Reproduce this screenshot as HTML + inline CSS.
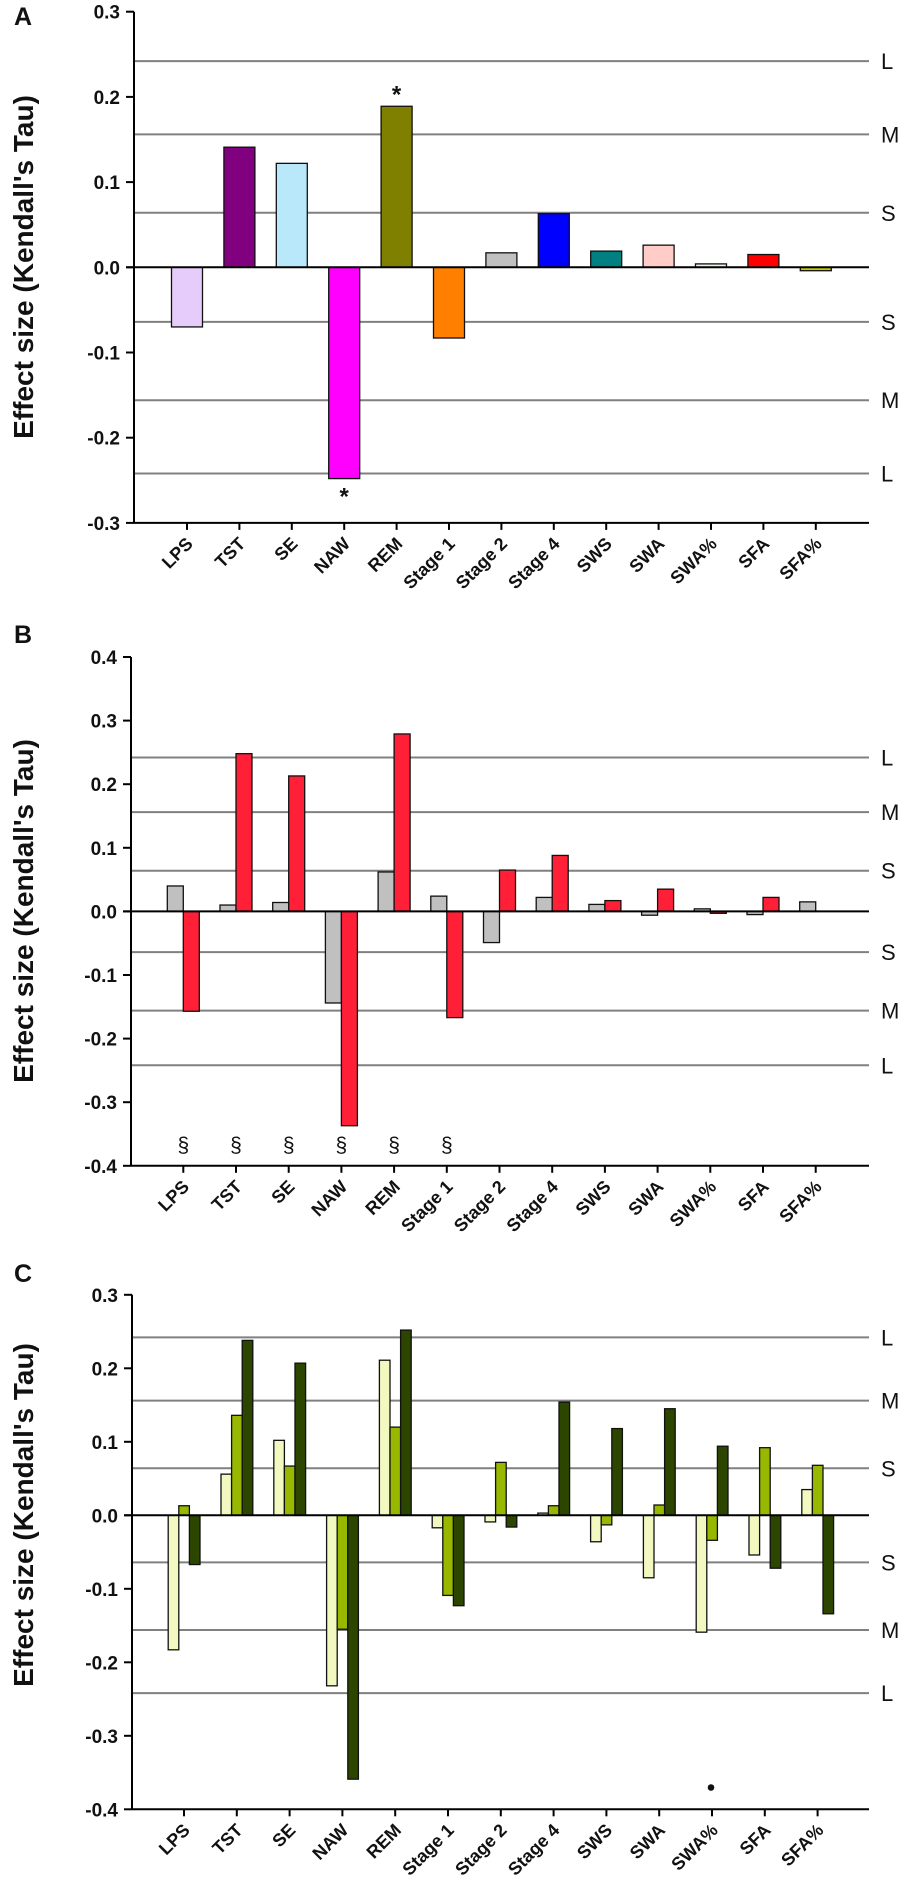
<!DOCTYPE html>
<html><head><meta charset="utf-8"><style>
html,body{margin:0;padding:0;background:#fff}
svg{display:block;font-family:"Liberation Sans",Arial,sans-serif}
</style></head><body>
<svg id="fig" width="908" height="1901" viewBox="0 0 908 1901" xmlns="http://www.w3.org/2000/svg"></svg>
<script>
const categories = ["LPS","TST","SE","NAW","REM","Stage 1","Stage 2","Stage 4","SWS","SWA","SWA%","SFA","SFA%"];
const refLevels = [0.064, 0.156, 0.242];
const refLabels = ["S","M","L"];
// Panel A
const valuesA = [-0.070,0.141,0.122,-0.248,0.189,-0.083,0.017,0.063,0.019,0.026,0.004,0.015,-0.004];
const colorsA = ["#e6ccfa","#800080","#b8e8fa","#ff00ff","#808000","#ff8000","#c0c0c0","#0000ff","#008080","#ffccc8","#e8f4e8","#ff0000","#c8c800"];
const starsA = [3,4];
const ticksA = [0.3,0.2,0.1,0.0,-0.1,-0.2,-0.3];
// Panel B
const valuesBgray = [0.040,0.010,0.014,-0.144,0.062,0.024,-0.049,0.022,0.011,-0.006,0.004,-0.005,0.015];
const valuesBred = [-0.157,0.248,0.213,-0.337,0.279,-0.167,0.065,0.088,0.017,0.035,-0.003,0.022,0.0];
const sectionB = [0,1,2,3,4,5];
const ticksB = [0.4,0.3,0.2,0.1,0.0,-0.1,-0.2,-0.3,-0.4];
// Panel C
const valuesClight = [-0.183,0.056,0.102,-0.232,0.211,-0.017,-0.009,0.003,-0.036,-0.085,-0.159,-0.054,0.035];
const valuesCmid = [0.013,0.136,0.067,-0.155,0.120,-0.109,0.072,0.013,-0.013,0.014,-0.034,0.092,0.068];
const valuesCdark = [-0.067,0.238,0.207,-0.359,0.252,-0.123,-0.016,0.154,0.118,0.145,0.094,-0.072,-0.134];
const dotC = [10];
const ticksC = [0.3,0.2,0.1,0.0,-0.1,-0.2,-0.3,-0.4];

const svg = document.getElementById('fig');
const NS = "http://www.w3.org/2000/svg";
function mk(tag, attrs, parent){ const e=document.createElementNS(NS,tag); for(const k in attrs) e.setAttribute(k,attrs[k]); (parent||svg).appendChild(e); return e; }

function panel(cfg){
  const g = mk('g',{});
  
  
  const y = v => cfg.zeroY - v*cfg.px*100;
  const x = i => cfg.cat0 + i*cfg.step;
  const top = y(cfg.ticks[0]), bot = y(cfg.ticks[cfg.ticks.length-1]);
  const right = 869;
  refLevels.forEach((lv,k)=>{
    [1,-1].forEach(s=>{
      const yy = y(lv*s);
      const l = mk('line',{x1:cfg.ax,x2:right,y1:yy,y2:yy,stroke:'#808080','stroke-width':2},g);
      
      
      const t = mk('text',{x:881,y:yy+8,'font-size':22,fill:'#111'},g);
      t.textContent = refLabels[k];
      
      
    });
  });
  cfg.series.forEach(s=>{
    s.vals.forEach((v,i)=>{
      const x0 = x(i) + s.off;
      const y0 = Math.min(y(v), y(0)), h = Math.abs(y(v)-y(0));
      if (h < 0.3) return;
      const r = mk('rect',{x:x0,y:y0,width:s.w,height:h,fill:s.color?s.color:s.colors[i],stroke:'#111','stroke-width':1.3},g);
      
      
    });
  });
  const z = mk('line',{x1:cfg.ax-8,x2:right,y1:y(0),y2:y(0),stroke:'#000','stroke-width':2},g);
  
  
  const ya = mk('line',{x1:cfg.ax,x2:cfg.ax,y1:top,y2:bot,stroke:'#000','stroke-width':2},g);
  
  
  const xa = mk('line',{x1:cfg.ax,x2:right,y1:bot,y2:bot,stroke:'#000','stroke-width':2},g);
  
  
  cfg.ticks.forEach(tv=>{
    const yy=y(tv);
    mk('line',{x1:cfg.ax-8,x2:cfg.ax,y1:yy,y2:yy,stroke:'#000','stroke-width':2},g);
    const t = mk('text',{x:cfg.ax-14,y:yy+7,'font-size':19,'font-weight':'bold','text-anchor':'end',fill:'#111'},g);
    t.textContent = tv.toFixed(1);
    
    
  });
  categories.forEach((c,i)=>{
    const xx = x(i);
    mk('line',{x1:xx,x2:xx,y1:bot,y2:bot+7,stroke:'#000','stroke-width':2},g);
    const t = mk('text',{x:xx+7,y:bot+22,'font-size':18,'font-weight':'bold','text-anchor':'end',fill:'#111',transform:`rotate(-45 ${xx+7} ${bot+22})`},g);
    t.textContent = c;
    
    
  });
  const yt = mk('text',{x:0,y:0,'font-size':28,'font-weight':'bold','text-anchor':'middle',fill:'#111',transform:`translate(33 ${cfg.titleY}) rotate(-90)`},g);
  yt.textContent = "Effect size (Kendall's Tau)";
  
  
  const pl = mk('text',{x:14,y:cfg.letterY,'font-size':25,'font-weight':'bold',fill:'#111'},g);
  pl.textContent = cfg.id;
  
  
  return {g,x,y,bot};
}

const A = panel({id:'A',ax:134,zeroY:267.3,px:8.52,cat0:187,step:52.4,ticks:ticksA,titleY:267,letterY:25,
  series:[{name:'a',vals:valuesA,colors:colorsA,off:-15.5,w:31}]});
starsA.forEach(i=>{
  const v = valuesA[i];
  const yy = v>0 ? A.y(v)-4 : A.y(v)+26;
  const t = mk('text',{x:A.x(i),y:yy,'font-size':24,'font-weight':'bold','text-anchor':'middle',fill:'#111'},A.g);
  t.textContent='*';
  
  
});

const B = panel({id:'B',ax:131,zeroY:911.4,px:6.36,cat0:183.3,step:52.7,ticks:ticksB,titleY:911,letterY:643,
  series:[{name:'gray',vals:valuesBgray,color:'#c0c0c0',off:-16,w:16},{name:'red',vals:valuesBred,color:'#ff2038',off:0,w:16}]});
sectionB.forEach(i=>{
  const t = mk('text',{x:B.x(i),y:1152,'font-size':21,'text-anchor':'middle',fill:'#111'},B.g);
  t.textContent='§';
  
  
});

const C = panel({id:'C',ax:132,zeroY:1515.3,px:7.35,cat0:184,step:52.8,ticks:ticksC,titleY:1515,letterY:1282,
  series:[{name:'light',vals:valuesClight,color:'#f2f8c0',off:-15.8,w:10.6},{name:'mid',vals:valuesCmid,color:'#98b800',off:-5.2,w:10.6},{name:'dark',vals:valuesCdark,color:'#2c4600',off:5.4,w:10.6}]});
dotC.forEach(i=>{
  const d = mk('circle',{cx:C.x(i)-1,cy:1787.5,r:3.3,fill:'#111'},C.g);
  
  
});
</script>
</body></html>
